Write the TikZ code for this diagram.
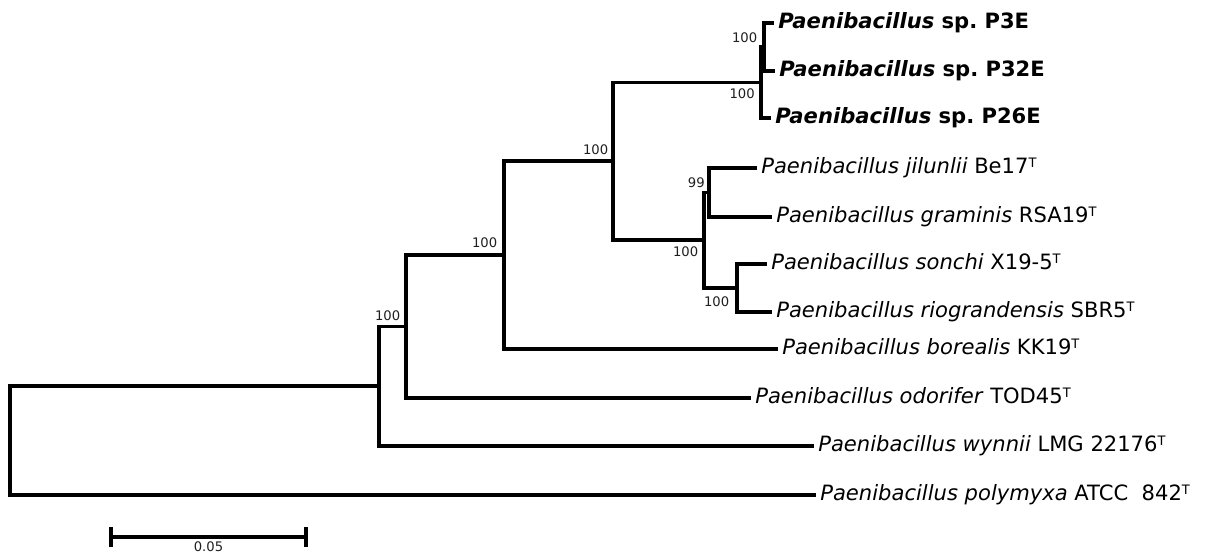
\documentclass[tikz,border=0pt]{standalone}
\usepackage{fontspec}
\setmainfont{DejaVu Sans}
% superscript "T" marking type strains
\newcommand\typestrain{\raisebox{3.9pt}{\fontsize{7.4}{8}\selectfont T}}
\begin{document}
\begin{tikzpicture}[x=0.02cm,y=-0.02cm,
  branch/.style={line width=1.9pt, line join=miter},
  leaf/.style={anchor=west, inner xsep=0.09cm, inner ysep=0pt,
    text height=9pt, text depth=2.2pt, font=\fontsize{12}{14}\selectfont},
  boot/.style={anchor=base east, inner sep=0pt, text=black!88,
    font=\fontsize{7.5}{8}\selectfont},
  scalebar/.style={line width=1.9pt}]
\useasboundingbox (0,0) rectangle (1208,553);

% internal nodes
\coordinate (R) at (10,440.5);
\coordinate (A) at (379,386);
\coordinate (B) at (406,326.5);
\coordinate (C) at (504,255);
\coordinate (D) at (613,161);
\coordinate (E) at (761,82.5);
\coordinate (G) at (764,47);
\coordinate (F) at (704,240);
\coordinate (H) at (709,192.5);
\coordinate (I) at (737,288);

% taxa
\node[leaf] (p3e)  at (773.5,23)  {\textbf{\textit{Paenibacillus} sp.\ P3E}};
\node[leaf] (p32e) at (774.5,71)  {\textbf{\textit{Paenibacillus} sp.\ P32E}};
\node[leaf] (p26e) at (770.5,118) {\textbf{\textit{Paenibacillus} sp.\ P26E}};
\node[leaf] (jil)  at (756.5,168) {\textit{Paenibacillus jilunlii} Be17\typestrain};
\node[leaf] (gra)  at (771.5,217) {\textit{Paenibacillus graminis} RSA19\typestrain};
\node[leaf] (son)  at (766.5,264) {\textit{Paenibacillus sonchi} X19-5\typestrain};
\node[leaf] (rio)  at (771.5,312) {\textit{Paenibacillus riograndensis} SBR5\typestrain};
\node[leaf] (bor)  at (777.5,349) {\textit{Paenibacillus borealis} KK19\typestrain};
\node[leaf] (odo)  at (750.5,398) {\textit{Paenibacillus odorifer} TOD45\typestrain};
\node[leaf] (wyn)  at (813.5,446) {\textit{Paenibacillus wynnii} LMG 22176\typestrain};
\node[leaf] (pol)  at (815.5,495) {\textit{Paenibacillus polymyxa} ATCC\ \ 842\typestrain};

% branches
\draw[branch] (R) |- (A);
\draw[branch] (R) |- (pol.west);
\draw[branch] (A) |- (B);
\draw[branch] (A) |- (wyn.west);
\draw[branch] (B) |- (C);
\draw[branch] (B) |- (odo.west);
\draw[branch] (C) |- (D);
\draw[branch] (C) |- (bor.west);
\draw[branch] (D) |- (E);
\draw[branch] (D) |- (F);
\draw[branch] (E) |- (G);
\draw[branch] (E) |- (p26e.west);
\draw[branch] (G) |- (p3e.west);
\draw[branch] (G) |- (p32e.west);
\draw[branch] (F) |- (H);
\draw[branch] (F) |- (I);
\draw[branch] (H) |- (jil.west);
\draw[branch] (H) |- (gra.west);
\draw[branch] (I) |- (son.west);
\draw[branch] (I) |- (rio.west);

% bootstrap support values
\node[boot] at ([shift={(-6.5,-4)}]G) {100};
\node[boot] at ([shift={(-6,16.5)}]E) {100};
\node[boot] at ([shift={(-4.5,-6.3)}]D) {100};
\node[boot] at ([shift={(-6.5,-7.3)}]C) {100};
\node[boot] at ([shift={(-5.5,-5.8)}]B) {100};
\node[boot] at ([shift={(-4,-4.8)}]H) {99};
\node[boot] at ([shift={(-5.5,16.7)}]F) {100};
\node[boot] at ([shift={(-7.5,18.7)}]I) {100};

% scale bar
\coordinate (s1) at (111,537);
\coordinate (s2) at (306,537);
\draw[scalebar] (s1) -- (s2);
\draw[scalebar] ([shift={(0,-10)}]s1) -- ([shift={(0,10)}]s1);
\draw[scalebar] ([shift={(0,-10)}]s2) -- ([shift={(0,10)}]s2);
\node[anchor=base, inner sep=0pt, text=black!88, font=\fontsize{7.5}{8}\selectfont]
  at (208.5,551.5) {0.05};
\end{tikzpicture}
\end{document}
